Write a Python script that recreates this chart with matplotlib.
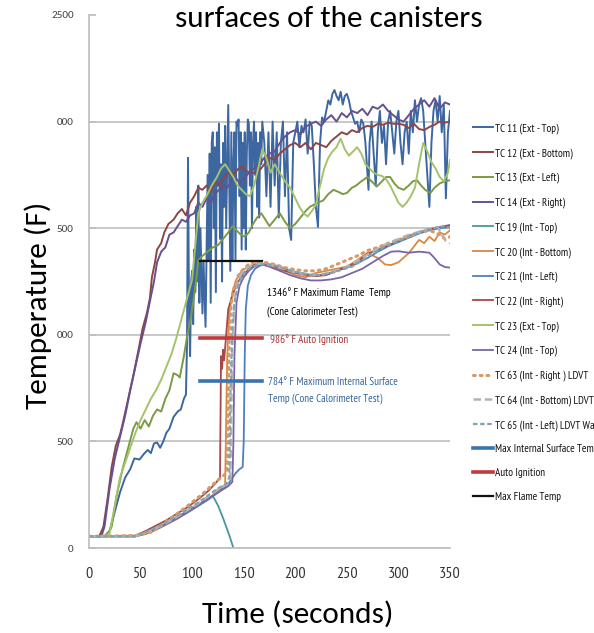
import matplotlib
matplotlib.use("Agg")
import matplotlib.pyplot as plt

# ---------------- data ----------------
title = "surfaces of the canisters"
x_label = "Time (seconds)"
y_label = "Temperature (F)"
x_ticks = [0, 50, 100, 150, 200, 250, 300, 350]
y_ticks = [0, 500, 1000, 1500, 2000, 2500]
y_tick_labels = ["0", "500", "000", "500", "000", "2500"]

tc11_x = [0, 15, 20, 25, 30, 35, 40, 44, 49, 53, 57, 60, 63, 66, 69, 72, 75, 78, 82, 86, 89, 92, 94, 95, 96, 97, 98, 99,
          100, 101, 102, 103, 104, 105, 106, 107, 108, 109, 110, 111, 112, 113, 114, 115, 116, 117, 118, 119, 120, 121,
          122, 123, 124, 125, 126, 127, 128, 129, 130, 131, 132, 133, 134, 135, 136, 137, 138, 139, 140, 141, 142, 143,
          144, 145, 146, 147, 148, 149, 150, 151, 152, 153, 154, 155, 156, 157, 158, 159, 160, 161, 162, 163, 164, 165,
          166, 167, 168, 170, 172, 174, 176, 178, 180, 182, 184, 186, 188, 190, 192, 194, 196, 198, 200, 202, 204, 206,
          208, 210, 212, 214, 216, 218, 220, 222, 224, 226, 228, 230, 232, 234, 236, 238, 240, 242, 244, 246, 248, 250,
          252, 254, 256, 258, 260, 262, 264, 266, 268, 270, 271, 272, 274, 276, 278, 280, 282, 284, 286, 288, 290, 292,
          294, 296, 298, 300, 302, 304, 306, 308, 310, 312, 314, 316, 318, 320, 322, 324, 326, 328, 330, 332, 334, 336,
          338, 340, 342, 344, 346, 348, 350]
tc11_y = [55, 55, 80, 170, 260, 330, 370, 420, 415, 440, 460, 445, 490, 495, 470, 500, 540, 560, 615, 640, 650, 700, 720,
          950, 1830, 1100, 900, 1250, 1300, 1050, 1400, 1200, 1600, 1250, 1700, 1150, 1500, 1300, 1100, 1350, 1200, 1037,
          1400, 1750, 1350, 1850, 1150, 1900, 1950, 1500, 1880, 1200, 1950, 1700, 1990, 1450, 1800, 1250, 1900, 1600,
          1980, 1500, 1800, 2078, 1700, 1300, 1950, 1350, 1800, 1950, 1350, 2000, 1980, 2010, 1650, 1950, 1400, 1900,
          1500, 1950, 1400, 1850, 2010, 1990, 1700, 1950, 1500, 1900, 2000, 1750, 1950, 1600, 1900, 1550, 1950, 1800,
          2000, 1900, 1650, 1950, 1600, 2000, 1700, 1950, 1550, 1900, 2000, 1650, 1950, 1500, 1445, 1900, 1950, 2000,
          1880, 1980, 1950, 2010, 1850, 2000, 1980, 1800, 1600, 1506, 1900, 2020, 2000, 2050, 2100, 2080, 2130, 2148,
          2120, 2100, 2140, 2080, 2120, 2130, 2100, 2050, 2020, 1990, 2000, 1950, 2010, 1990, 1900, 1750, 1680, 1900,
          2000, 1850, 1700, 1950, 2050, 1900, 1980, 1800, 2000, 2050, 1950, 1850, 2000, 2050, 1900, 1800, 1950, 2000,
          1850, 2050, 1950, 2100, 2000, 2080, 2110, 2050, 1900, 1750, 1600, 1900, 2050, 2100, 2000, 2120, 1950, 2080,
          1640, 1950, 2050]

tc12_x = [0, 10, 14, 18, 22, 26, 30, 33, 38, 43, 48, 52, 56, 59, 61, 64, 66, 70, 73, 77, 82, 86, 90, 94, 98, 102, 106,
          110, 114, 118, 122, 126, 130, 135, 140, 144, 148, 152, 156, 161, 166, 170, 175, 180, 185, 190, 195, 200, 205,
          210, 215, 220, 225, 230, 235, 240, 245, 250, 255, 260, 265, 270, 275, 280, 285, 290, 295, 300, 305, 310, 315,
          320, 325, 330, 335, 340, 345, 350]
tc12_y = [55, 55, 100, 230, 380, 480, 530, 590, 700, 810, 930, 1030, 1100, 1170, 1270, 1340, 1400, 1430, 1480, 1520,
          1540, 1570, 1590, 1560, 1620, 1650, 1690, 1680, 1700, 1670, 1720, 1700, 1730, 1760, 1750, 1775, 1790, 1770,
          1760, 1760, 1775, 1800, 1830, 1820, 1850, 1870, 1890, 1900, 1880, 1900, 1870, 1900, 1890, 1880, 1910, 1930,
          1950, 1940, 1960, 1950, 1970, 1980, 1975, 1990, 1985, 1995, 1990, 1990, 1985, 1970, 1990, 1965, 1960, 1975,
          1985, 2000, 1995, 2000]

tc13_x = [0, 17, 22, 27, 33, 38, 43, 46, 50, 54, 58, 62, 66, 70, 74, 78, 82, 86, 88, 92, 95, 98, 101, 104, 106, 110, 115,
          120, 125, 130, 135, 139, 143, 147, 151, 155, 159, 163, 167, 171, 175, 180, 185, 190, 195, 200, 205, 210, 214,
          218, 222, 227, 232, 237, 242, 246, 250, 255, 259, 264, 270, 275, 279, 284, 288, 292, 296, 300, 305, 310, 314,
          318, 322, 326, 331, 335, 340, 345, 350]
tc13_y = [55, 55, 100, 250, 380, 470, 560, 590, 560, 600, 570, 620, 650, 640, 700, 740, 820, 810, 800, 900, 990, 1060,
          1150, 1260, 1350, 1370, 1390, 1410, 1420, 1450, 1480, 1510, 1490, 1470, 1460, 1480, 1520, 1550, 1570, 1540,
          1510, 1540, 1570, 1530, 1500, 1520, 1550, 1580, 1600, 1610, 1620, 1630, 1660, 1680, 1670, 1660, 1665, 1690,
          1700, 1720, 1740, 1715, 1695, 1720, 1740, 1740, 1710, 1690, 1680, 1700, 1720, 1725, 1700, 1680, 1665, 1690,
          1710, 1720, 1725]

tc14_x = [0, 12, 15, 20, 25, 30, 35, 40, 45, 50, 55, 60, 63, 66, 70, 74, 78, 82, 86, 90, 94, 98, 102, 106, 110, 114, 118,
          122, 126, 130, 134, 138, 142, 146, 150, 155, 160, 165, 170, 175, 180, 185, 190, 195, 200, 205, 210, 215, 220,
          225, 230, 235, 240, 245, 250, 255, 260, 265, 270, 275, 280, 285, 290, 295, 300, 305, 310, 315, 320, 325, 330,
          335, 340, 345, 350]
tc14_y = [55, 55, 100, 280, 420, 520, 620, 740, 850, 960, 1060, 1180, 1250, 1340, 1390, 1410, 1470, 1480, 1510, 1540,
          1530, 1560, 1570, 1620, 1600, 1640, 1620, 1660, 1680, 1700, 1690, 1720, 1740, 1710, 1730, 1760, 1780, 1800,
          1830, 1850, 1860, 1900, 1930, 1950, 1960, 1940, 1975, 1990, 2000, 1980, 2010, 2030, 2000, 2040, 2020, 2050,
          2040, 2060, 2030, 2070, 2060, 2080, 2050, 2030, 2010, 2000, 2030, 2060, 2080, 2100, 2070, 2110, 2060, 2090,
          2080]

tc19_x = [0, 45, 55, 65, 75, 85, 95, 105, 115, 120, 125, 130, 133, 136, 138, 140, 142]
tc19_y = [55, 55, 70, 92, 118, 145, 172, 200, 230, 245, 200, 140, 100, 60, 30, 0, -20]

tc20_x = [0, 45, 55, 65, 75, 85, 95, 105, 115, 125, 130, 132, 133, 134, 136, 139, 143, 148, 155, 163, 170, 180, 190,
          200, 210, 220, 230, 240, 250, 260, 270, 280, 287, 293, 300, 310, 316, 320, 325, 330, 335, 340, 345, 350]
tc20_y = [55, 55, 65, 85, 110, 135, 165, 195, 230, 265, 285, 300, 600, 900, 1100, 1200, 1260, 1300, 1320, 1335, 1330,
          1310, 1300, 1280, 1270, 1290, 1300, 1310, 1320, 1350, 1385, 1360, 1330, 1327, 1340, 1383, 1420, 1445, 1430,
          1460, 1440, 1480, 1470, 1490]

tc21_x = [0, 45, 55, 65, 75, 85, 95, 105, 115, 125, 135, 142, 146, 149, 150, 151, 152, 154, 157, 161, 166, 172, 180,
          190, 200, 210, 220, 230, 240, 250, 260, 270, 280, 290, 300, 310, 320, 330, 340, 350]
tc21_y = [55, 55, 68, 88, 112, 138, 165, 195, 225, 260, 300, 350, 370, 380, 500, 900, 1120, 1230, 1280, 1310, 1325,
          1330, 1325, 1310, 1295, 1285, 1278, 1285, 1300, 1315, 1335, 1360, 1390, 1415, 1435, 1455, 1475, 1490, 1500,
          1505]

tc22_x = [0, 45, 55, 65, 75, 85, 95, 105, 115, 122, 127, 128, 129, 130, 131, 133, 135, 138, 141, 146, 151, 158, 164,
          170, 180, 190, 200, 210, 220, 230, 240, 250, 260, 270, 280, 290, 300, 310, 320, 330, 340, 350]
tc22_y = [55, 58, 80, 105, 130, 160, 190, 225, 265, 300, 330, 900, 840, 930, 880, 1000, 1120, 1170, 1210, 1260, 1290,
          1320, 1337, 1330, 1320, 1300, 1290, 1280, 1275, 1280, 1300, 1320, 1340, 1380, 1400, 1420, 1440, 1465, 1480,
          1495, 1505, 1515]

tc23_x = [0, 15, 20, 25, 30, 35, 40, 45, 50, 55, 60, 65, 70, 75, 80, 85, 90, 95, 100, 103, 106, 110, 115, 119, 124, 128,
          132, 136, 140, 144, 148, 152, 156, 160, 164, 168, 172, 176, 180, 185, 190, 195, 200, 204, 208, 212, 216, 220,
          224, 228, 232, 236, 240, 244, 248, 252, 256, 260, 264, 268, 272, 276, 280, 284, 288, 292, 296, 300, 304, 308,
          312, 316, 320, 324, 328, 332, 336, 340, 344, 348, 350]
tc23_y = [55, 55, 70, 200, 330, 400, 470, 540, 600, 650, 700, 740, 790, 850, 910, 990, 1080, 1170, 1260, 1420, 1570,
          1620, 1660, 1700, 1740, 1780, 1800, 1770, 1740, 1700, 1680, 1660, 1650, 1700, 1780, 1870, 1830, 1760, 1800,
          1760, 1720, 1690, 1640, 1600, 1570, 1555, 1580, 1610, 1700, 1780, 1830, 1860, 1880, 1920, 1870, 1840, 1860,
          1880, 1850, 1800, 1780, 1760, 1750, 1745, 1730, 1700, 1660, 1620, 1600, 1620, 1650, 1690, 1800, 1900, 1860,
          1810, 1780, 1740, 1720, 1760, 1820]

tc24_x = [0, 45, 55, 65, 75, 85, 95, 105, 115, 125, 135, 139, 140, 141, 143, 146, 150, 155, 160, 167, 175, 185, 195,
          205, 215, 225, 235, 245, 255, 265, 275, 285, 293, 300, 310, 320, 330, 335, 340, 345, 350]
tc24_y = [55, 55, 70, 90, 115, 140, 170, 200, 230, 260, 290, 310, 500, 900, 1150, 1230, 1270, 1300, 1320, 1330, 1320,
          1300, 1280, 1265, 1255, 1255, 1260, 1270, 1290, 1310, 1340, 1370, 1390, 1392, 1385, 1390, 1385, 1360, 1330,
          1318, 1315]

tc63_x = [0, 45, 50, 61, 77, 93, 109, 125, 131, 134, 135, 136, 138, 141, 145, 150, 156, 163, 170, 180, 190, 200, 210,
          220, 230, 240, 250, 260, 270, 280, 290, 300, 310, 320, 330, 340, 345, 350]
tc63_y = [55, 58, 65, 75, 131, 188, 249, 319, 342, 360, 700, 1000, 1150, 1230, 1280, 1310, 1335, 1345, 1340, 1330,
          1315, 1305, 1300, 1300, 1310, 1330, 1350, 1370, 1395, 1410, 1430, 1445, 1460, 1480, 1490, 1470, 1450, 1460]

tc64_x = [0, 45, 55, 65, 75, 85, 95, 105, 115, 125, 134, 137, 138, 139, 141, 144, 148, 153, 160, 168, 178, 188, 198,
          208, 218, 228, 238, 248, 258, 268, 278, 288, 298, 308, 318, 328, 338, 342, 346, 350]
tc64_y = [55, 55, 72, 92, 118, 146, 176, 206, 240, 275, 300, 320, 650, 950, 1150, 1240, 1290, 1315, 1330, 1335, 1325,
          1310, 1295, 1285, 1280, 1285, 1300, 1315, 1340, 1370, 1400, 1425, 1445, 1465, 1480, 1495, 1505, 1470, 1440,
          1430]

tc65_x = [0, 45, 55, 65, 75, 85, 95, 105, 115, 125, 133, 136, 137, 139, 142, 146, 151, 158, 165, 175, 185, 195, 205,
          215, 225, 235, 245, 255, 265, 275, 285, 295, 305, 315, 325, 335, 345, 350]
tc65_y = [55, 55, 75, 95, 120, 150, 180, 210, 245, 280, 300, 330, 700, 1050, 1180, 1250, 1295, 1320, 1330, 1330, 1320,
          1300, 1290, 1280, 1280, 1290, 1305, 1320, 1350, 1380, 1410, 1430, 1450, 1470, 1490, 1500, 1510, 1500]

ref_x = [108, 168]
max_internal_temp = 784
auto_ignition_temp = 986
max_flame_temp = 1346

# legend labels as visible in the reference (the right edge cuts them)
series = [
    ("TC 11 (Ext - Top)", tc11_x, tc11_y),
    ("TC 12 (Ext - Bottom)", tc12_x, tc12_y),
    ("TC 13 (Ext - Left)", tc13_x, tc13_y),
    ("TC 14 (Ext - Right)", tc14_x, tc14_y),
    ("TC 19 (Int - Top)", tc19_x, tc19_y),
    ("TC 20 (Int - Bottom)", tc20_x, tc20_y),
    ("TC 21 (Int - Left)", tc21_x, tc21_y),
    ("TC 22 (Int - Right)", tc22_x, tc22_y),
    ("TC 23 (Ext - Top)", tc23_x, tc23_y),
    ("TC 24 (Int - Top)", tc24_x, tc24_y),
    ("TC 63 (Int - Right ) LDVT", tc63_x, tc63_y),
    ("TC 64 (Int - Bottom) LDVT", tc64_x, tc64_y),
    ("TC 65 (Int - Left) LDVT Wa", tc65_x, tc65_y),
]
ref_labels = ["Max Internal Surface Tem", "Auto Ignition", "Max Flame Temp"]

# ---------------- styles ----------------
styles = [
    dict(color="#3c67a1", lw=1.4),
    dict(color="#8e4545", lw=1.4),
    dict(color="#7b9a45", lw=1.4),
    dict(color="#66508e", lw=1.4),
    dict(color="#46989c", lw=1.3),
    dict(color="#dc8640", lw=1.3),
    dict(color="#4f7fbd", lw=1.3),
    dict(color="#a84848", lw=1.3),
    dict(color="#a4c26c", lw=1.4),
    dict(color="#7a64a8", lw=1.3),
    dict(color="#d69a66", lw=2.2, ls=(0, (0.6, 1.6)), dash_capstyle="round"),
    dict(color="#b3b3b3", lw=1.8, ls=(0, (3, 1.5))),
    dict(color="#7fa4b4", lw=1.6, ls=(0, (2, 1.2))),
]

W, H = 594, 633
fig = plt.figure(figsize=(W / 100, H / 100), dpi=100)
ax = fig.add_axes([89 / W, 1 - 548 / H, (450 - 89) / W, (548 - 15) / H])

handles = []
for (name, xs, ys), st in zip(series, styles):
    (ln,) = ax.plot(xs, ys, label=name, **st)
    handles.append(ln)

(l1,) = ax.plot(ref_x, [max_internal_temp] * 2, color="#3b73ad", lw=2.6, label=ref_labels[0])
(l2,) = ax.plot(ref_x, [auto_ignition_temp] * 2, color="#c0393b", lw=2.6, label=ref_labels[1])
(l3,) = ax.plot(ref_x, [max_flame_temp] * 2, color="#111111", lw=1.6, label=ref_labels[2])
handles += [l1, l2, l3]

ax.set_xlim(0, 350)
ax.set_ylim(0, 2500)
ax.set_xticks(x_ticks)
ax.set_yticks(y_ticks)
ax.set_yticklabels(y_tick_labels)
ax.yaxis.grid(True, color="#c4c4c4", lw=1.3)
ax.set_axisbelow(True)
ax.get_ygridlines()[-1].set_visible(False)
for s in ["top", "right"]:
    ax.spines[s].set_visible(False)
for s in ["left", "bottom"]:
    ax.spines[s].set_color("#bdbdbd")
    ax.spines[s].set_linewidth(1.2)
ax.tick_params(axis="y", direction="in", length=5, width=1.2, color="#bdbdbd", pad=11,
               labelsize=8, labelcolor="#444444")
ax.tick_params(axis="x", length=0, pad=14, labelsize=11.5, labelcolor="#333333")
for t in ax.get_yticklabels():
    t.set_fontfamily(["Carlito", "DejaVu Sans"])
for t in ax.get_xticklabels():
    t.set_fontfamily(["PT Sans Narrow", "DejaVu Sans"])

# annotations
ann_font = ["PT Sans Narrow", "DejaVu Sans"]
ax.text(172.5, 1196, "1346\u00b0 F Maximum Flame  Temp", fontsize=8, family=ann_font, color="#000000", va="center")
ax.text(172.5, 1107, "(Cone Calorimeter Test)", fontsize=8, family=ann_font, color="#000000", va="center")
ax.text(175, 976, "986\u00b0 F Auto Ignition", fontsize=8, family=ann_font, color="#a83232", va="center")
ax.text(173.5, 779, "784\u00b0 F Maximum Internal Surface", fontsize=8, family=ann_font, color="#35659a", va="center")
ax.text(173.5, 699, "Temp (Cone Calorimeter Test)", fontsize=8, family=ann_font, color="#35659a", va="center")

# labels / title
lab_font = ["Carlito", "DejaVu Sans"]
fig.text(329 / W, 1 - 27 / H, title, fontsize=22.5, family=lab_font, ha="center", va="baseline")
fig.text(298 / W, 1 - 623 / H, x_label, fontsize=22.5, family=lab_font, ha="center", va="baseline")
fig.text(38 / W, 1 - 305 / H, y_label, fontsize=22.5, family=lab_font, ha="center", va="center", rotation=90)

leg = fig.legend(handles=handles, loc="upper left", bbox_to_anchor=(473 / W, 1 - 123 / H),
                 frameon=False, prop={"family": ann_font, "size": 8},
                 handlelength=1.8, handletextpad=0.15, labelspacing=1.24, borderpad=0, borderaxespad=0)
for t in leg.get_texts():
    t.set_color("#111111")

fig.savefig("out.png", dpi=100)
